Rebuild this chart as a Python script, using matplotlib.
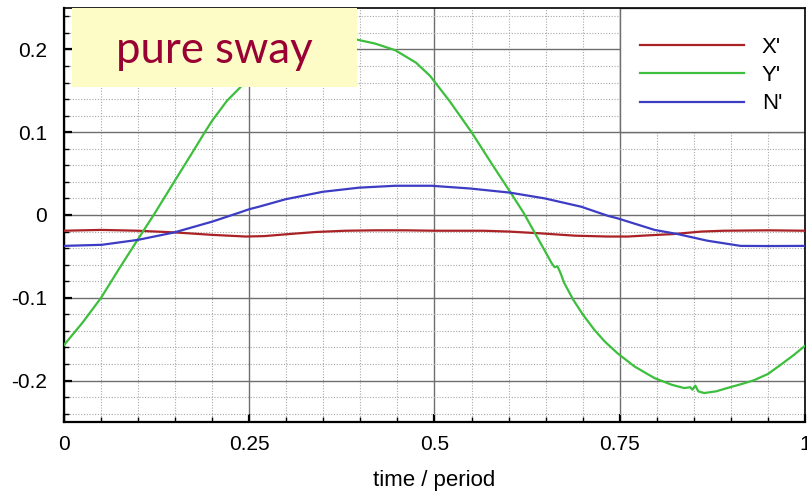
"""Pure sway test: non-dimensional forces X', Y' and moment N' over one period."""

import matplotlib
matplotlib.use("Agg")
import matplotlib.pyplot as plt
from matplotlib.patches import Rectangle
from matplotlib.ticker import MultipleLocator

# --- data -----------------------------------------------------------------
t_y = [0.000, 0.025, 0.050, 0.075, 0.100, 0.121, 0.150, 0.175, 0.190, 0.200,
       0.220, 0.241, 0.270, 0.300, 0.330, 0.360, 0.385, 0.396, 0.420, 0.447,
       0.475, 0.494, 0.520, 0.550, 0.575, 0.602, 0.620, 0.635, 0.650, 0.658,
       0.662, 0.666, 0.670, 0.675, 0.687, 0.700, 0.716, 0.730, 0.747, 0.770,
       0.797, 0.820, 0.837, 0.845, 0.848, 0.852, 0.856, 0.864, 0.880, 0.895,
       0.915, 0.931, 0.950, 0.967, 0.985, 1.000]
y_force = [-0.157, -0.130, -0.100, -0.064, -0.029, 0.000, 0.042, 0.078, 0.100, 0.114,
           0.138, 0.157, 0.181, 0.197, 0.206, 0.211, 0.2125, 0.2117, 0.207, 0.199,
           0.184, 0.168, 0.138, 0.100, 0.065, 0.028, 0.003, -0.021, -0.045, -0.058,
           -0.063, -0.062, -0.070, -0.082, -0.102, -0.120, -0.139, -0.153, -0.167, -0.183,
           -0.197, -0.205, -0.209, -0.208, -0.211, -0.206, -0.213, -0.215, -0.213, -0.209,
           -0.204, -0.1996, -0.192, -0.181, -0.169, -0.158]

t_x = [0.000, 0.050, 0.100, 0.149, 0.200, 0.245, 0.270, 0.304, 0.340, 0.380,
       0.420, 0.460, 0.500, 0.566, 0.600, 0.640, 0.690, 0.734, 0.761, 0.790,
       0.823, 0.860, 0.890, 0.950, 1.000]
x_force = [-0.019, -0.018, -0.019, -0.021, -0.024, -0.026, -0.0255, -0.023, -0.0205, -0.019,
           -0.0185, -0.0185, -0.019, -0.019, -0.020, -0.022, -0.025, -0.026, -0.026, -0.0245,
           -0.023, -0.020, -0.019, -0.0185, -0.019]

t_n = [0.000, 0.051, 0.100, 0.149, 0.200, 0.237, 0.250, 0.263, 0.299, 0.349,
       0.398, 0.447, 0.496, 0.548, 0.602, 0.649, 0.698, 0.734, 0.747, 0.797,
       0.828, 0.868, 0.913, 0.950, 1.000]
n_moment = [-0.0373, -0.036, -0.030, -0.021, -0.008, 0.003, 0.007, 0.010, 0.019, 0.028,
            0.033, 0.0353, 0.0353, 0.032, 0.027, 0.020, 0.010, -0.001, -0.004, -0.018,
            -0.023, -0.031, -0.0373, -0.0375, -0.0373]

labels = ["X'", "Y'", "N'"]
x_ticks = [0, 0.25, 0.5, 0.75, 1]
x_tick_labels = ["0", "0.25", "0.5", "0.75", "1"]
y_ticks = [-0.2, -0.1, 0, 0.1, 0.2]
y_tick_labels = ["-0.2", "-0.1", "0", "0.1", "0.2"]
title_text = "pure sway"
x_label = "time / period"

# --- styling ---------------------------------------------------------------
plt.rcParams["font.family"] = ["Liberation Sans", "DejaVu Sans"]
plt.rcParams["axes.unicode_minus"] = False

RED = "#ab2226"
GREEN = "#3cbf3c"
BLUE = "#3c3cc4"

fig = plt.figure(figsize=(8.07, 4.95), dpi=100)
ax = fig.add_axes([64 / 807, 73 / 495, 741 / 807, 414 / 495])

ax.plot(t_x, x_force, color=RED, lw=1.6, label=labels[0], zorder=3)
ax.plot(t_y, y_force, color=GREEN, lw=1.6, label=labels[1], zorder=3)
ax.plot(t_n, n_moment, color=BLUE, lw=1.6, label=labels[2], zorder=3)

ax.set_xlim(0, 1)
ax.set_ylim(-0.25, 0.25)
ax.set_xticks(x_ticks)
ax.set_xticklabels(x_tick_labels)
ax.set_yticks(y_ticks)
ax.set_yticklabels(y_tick_labels)
ax.xaxis.set_minor_locator(MultipleLocator(0.05))
ax.yaxis.set_minor_locator(MultipleLocator(0.02))

ax.grid(which="major", color="#6e6e6e", lw=1.0, ls="-", zorder=1)
ax.grid(which="minor", color="#a8a8a8", lw=0.8, ls=(0, (1, 1.5)), zorder=1)
ax.set_axisbelow(True)

ax.tick_params(which="major", direction="in", length=6, width=1.6,
               labelsize=15, pad=12, top=False, right=False)
ax.tick_params(axis="x", which="major", pad=9)
ax.tick_params(which="minor", direction="in", length=3.5, width=1.0,
               top=False, right=False)
for side, spine in ax.spines.items():
    spine.set_color("black")
    spine.set_linewidth(1.6 if side in ("left", "bottom") else 1.2)

ax.set_xlabel(x_label, fontsize=16, labelpad=12)

# legend sits in a white panel bounded by the 0.75 / 0.1 grid lines
ax.add_patch(Rectangle((0.75, 0.7), 0.25, 0.3, transform=ax.transAxes,
                       facecolor="white", edgecolor="#6e6e6e", lw=1.0, zorder=2))
ax.legend(loc="center", bbox_to_anchor=(0.873, 0.8365), frameon=False,
          fontsize=16, handlelength=4.7, handletextpad=0.8, labelspacing=0.32)

# yellow caption box in the upper left corner
ax.add_patch(Rectangle((0.0108, 0.808), 0.384, 0.192, transform=ax.transAxes,
                       facecolor="#fdfbc6", edgecolor="none", zorder=4))
ax.text(0.203, 0.866, title_text, transform=ax.transAxes, ha="center",
        va="baseline", fontsize=31.5, color="#990033", family=["Lato", "DejaVu Sans"],
        zorder=5)

fig.savefig("out.png", dpi=100)
plt.close(fig)
